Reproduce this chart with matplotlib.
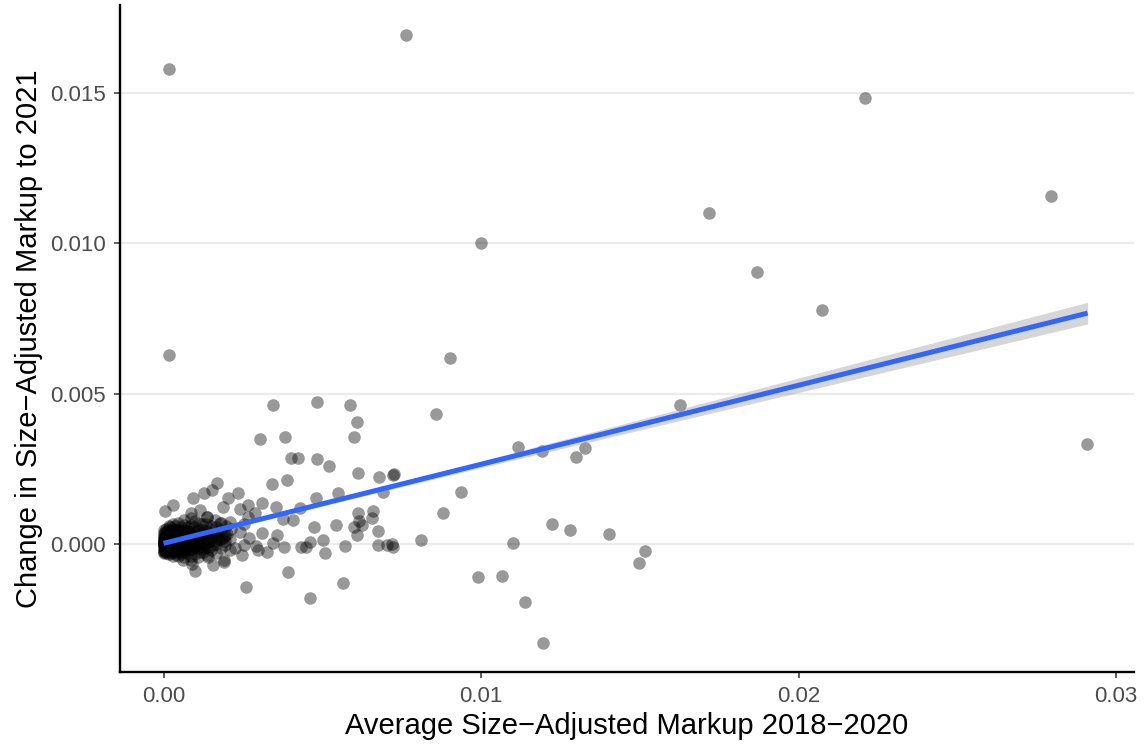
import numpy as np
import matplotlib
matplotlib.use("Agg")
import matplotlib.pyplot as plt

plt.rcParams["font.family"] = ["Liberation Sans", "DejaVu Sans"]

# values in units of 1e-4
# outliers and the spread-out points
outer_x = [1.6, 1.6, 76.4, 221.0, 279.6, 171.7, 100.0, 186.8, 207.5, 290.9,
           90.3, 162.6, 85.8, 93.7, 88.1, 111.6, 119.2, 129.9, 132.7, 122.3,
           128.0, 140.3, 110.1, 151.6, 149.7, 99.1, 106.6, 113.8, 119.5]
outer_y = [158.0, 62.9, 169.3, 148.4, 115.8, 110.1, 100.1, 90.5, 77.8, 33.3,
           61.9, 46.2, 43.2, 17.3, 10.3, 32.3, 30.9, 28.9, 31.9, 6.7,
           4.7, 3.3, 0.3, -2.3, -6.3, -11.0, -10.6, -19.3, -32.9]

# middle range points
mid_x = [34.6, 48.4, 58.8, 61.0, 60.1, 30.5, 38.4, 40.0, 42.5, 48.4,
         52.2, 61.3, 67.9, 72.3, 72.6, 69.2, 39.0, 34.3, 17.0, 55.0,
         48.1, 43.1, 35.5, 31.1, 61.3, 66.0, 65.7, 61.6, 60.1, 62.6,
         67.6, 61.0, 54.4, 47.5, 50.3, 57.2, 50.9, 46.2, 43.4, 45.0,
         67.6, 70.4, 72.0, 72.3, 81.1, 39.3, 26.1, 56.6, 46.2, 10.0,
         38.0, 37.7, 40.9, 35.8, 34.6, 32.7, 29.6, 31.1, 28.9, 26.7,
         23.3, 20.4, 18.6, 15.4, 12.6, 9.4, 3.1, 0.6, 25.2, 24.8,
         18.9, 19.0, 15.7, 6.0, 8.5, 17.9, 21.0, 24.0, 8.5, 11.6,
         13.8, 25.5, 27.0, 22.5, 19.5, 26.5, 29.0, 24.2, 14.0, 9.0]
mid_y = [46.2, 47.2, 46.2, 40.6, 35.6, 34.9, 35.6, 28.6, 28.6, 28.3,
         25.9, 23.6, 22.3, 23.0, 23.3, 17.3, 21.3, 20.0, 20.3, 17.0,
         15.3, 12.0, 12.3, 13.6, 10.3, 11.0, 8.6, 7.7, 5.7, 6.3,
         4.3, 3.0, 6.3, 5.7, 1.3, -0.7, -3.0, 0.7, -1.0, -1.0,
         -0.3, -0.3, 0.0, -1.0, 1.3, -9.3, -14.3, -13.0, -18.0, -9.0,
         -1.0, 8.3, 8.0, 3.0, 0.3, -2.7, -2.0, 3.7, 10.3, 13.0,
         17.0, 15.3, 12.3, 18.0, 17.0, 15.3, 13.0, 11.0, -0.3, -3.7,
         -6.0, -5.5, -7.0, -5.3, -5.3, 7.0, 7.3, 4.0, 10.3, 11.3,
         9.0, 6.5, 2.0, -1.5, 1.0, 8.8, -0.8, 11.5, -4.5, -6.8]

# dense cluster next to the origin
core_x = [0.1, 0.2, 0.1, 0.3, 0.2, 0.1, 0.2, 0.3, 0.1, 0.2, 0.0, 0.1,
          0.5, 0.4, 0.6, 0.5, 0.4, 0.6, 0.5, 0.4, 0.6, 0.5,
          1.0, 0.9, 1.1, 1.0, 0.8, 1.2, 1.0, 0.9, 1.1, 1.0,
          1.6, 1.5, 1.7, 1.6, 1.4, 1.8, 1.6, 1.5, 1.7, 1.6,
          2.3, 2.2, 2.4, 2.3, 2.1, 2.5, 2.3, 2.2, 2.4, 2.3,
          3.0, 2.9, 3.1, 3.0, 2.8, 3.2, 3.0, 2.9, 3.1,
          3.8, 3.7, 3.9, 3.8, 3.6, 4.0, 3.8, 3.7,
          4.6, 4.5, 4.7, 4.6, 4.4, 4.8, 4.6, 4.5,
          5.5, 5.4, 5.6, 5.5, 5.3, 5.7, 5.5,
          6.5, 6.4, 6.6, 6.5, 6.3, 6.7, 6.5, 6.4,
          7.5, 7.4, 7.6, 7.5, 7.3, 7.7,
          8.6, 8.5, 8.7, 8.6, 8.4, 8.8, 8.6,
          9.8, 9.7, 9.9, 9.8, 9.6, 10.0,
          11.0, 10.9, 11.1, 11.0, 10.8, 11.2,
          12.3, 12.2, 12.4, 12.3, 12.1,
          13.6, 13.5, 13.7, 13.6, 13.4, 13.8,
          15.0, 14.9, 15.1, 15.0,
          16.5, 16.4, 16.6, 16.5, 16.3,
          18.0, 17.9, 18.1, 18.0,
          19.5, 19.4, 19.6,
          21.0, 20.9, 21.1,
          0.2, 0.3, 0.1, 0.4, 0.2, 0.3, 0.5, 0.7, 0.8, 0.6,
          1.2, 1.3, 1.4, 1.9, 2.0, 2.6, 2.7, 3.3, 3.4, 3.5,
          4.1, 4.2, 4.3, 5.0, 5.1, 5.2, 5.9, 6.0, 6.1, 6.9,
          7.0, 7.1, 7.9, 8.0, 8.1, 9.0, 9.2, 10.3, 10.5, 11.6,
          12.0, 12.8, 13.1, 14.2, 14.5, 0.1, 0.2, 0.3, 0.9, 1.8,
          2.5, 3.2, 4.0, 4.9, 5.8, 6.8, 7.8, 8.9, 10.1, 11.4,
          0.4, 1.1, 2.1, 3.6, 5.3, 7.2, 9.4, 12.6, 15.5, 17.2]
core_y = [-2.0, -1.0, 0.0, 0.5, 1.0, 2.0, 3.0, -3.0, 1.5, 0.2, -0.5, 0.8,
          -2.5, -1.0, 0.0, 0.8, 1.8, 2.8, 4.0, -0.5, 1.2, -1.8,
          -3.0, -1.5, -0.3, 0.6, 1.5, 2.4, 3.5, 5.0, 0.1, -2.2,
          -3.5, -2.0, -0.8, 0.3, 1.2, 2.2, 3.3, 4.5, 6.0, -1.2,
          -3.0, -1.2, 0.0, 1.0, 2.0, 3.0, 4.2, 5.5, -2.0, 0.5,
          -4.0, -2.5, -1.0, 0.5, 1.6, 2.7, 3.8, 5.0, 6.5,
          -3.2, -1.5, 0.0, 1.3, 2.5, 3.6, 4.8, 6.0,
          -4.0, -2.0, -0.5, 1.0, 2.2, 3.4, 4.6, 7.0,
          -3.5, -1.8, 0.0, 1.5, 2.8, 4.0, 5.5,
          -4.5, -2.5, -0.5, 1.2, 3.0, 4.5, 6.3, 8.0,
          -3.0, -1.0, 0.8, 2.6, 4.2, 5.8,
          -4.0, -1.8, 0.3, 2.3, 4.0, 6.2, 8.5,
          -3.2, -0.8, 1.4, 3.5, 5.5, 7.5,
          -4.2, -1.5, 0.8, 3.0, 5.0, 7.0,
          -2.8, 0.0, 2.5, 4.8, 6.8,
          -3.8, -1.0, 1.8, 4.2, 6.5, 9.0,
          -2.0, 1.0, 3.5, 6.0,
          -3.0, 0.0, 2.8, 5.5, 8.0,
          -1.5, 1.5, 4.5, 7.0,
          -0.5, 3.0, 6.0,
          -2.0, 1.5, 5.0,
          0.3, -0.4, 1.2, -1.3, 2.4, -2.4, 0.4, -0.7, 1.0, 2.2,
          0.2, -1.0, 1.9, -0.3, 0.8, -0.9, 1.7, 0.2, -1.7, 2.0,
          -0.6, 0.9, 3.0, -1.2, 0.6, 2.3, -0.2, 1.8, 3.2, -1.5,
          0.4, 2.2, -0.8, 1.3, 3.1, -1.6, 0.9, -0.4, 2.0, -1.0,
          1.2, 0.0, 2.9, -1.5, 1.5, 3.8, -2.6, 4.5, -0.1, 0.1,
          3.6, -2.8, -2.4, 4.8, -2.6, 2.2, -2.0, 0.8, 0.2, -2.8,
          0.9, -0.9, -0.7, -0.6, 0.9, -0.2, 0.4, -1.2, -0.5, 1.8]

# more of the cluster (it is solid black in the picture)
core2_x = [0.3, 0.6, 0.9, 1.3, 1.7, 2.2, 2.8, 3.4, 4.0, 4.7,
           5.4, 6.2, 7.0, 7.8, 8.7, 9.6, 10.6, 11.7, 12.9, 14.1,
           15.3, 16.8, 18.4, 20.0, 0.2, 0.7, 1.2, 1.9, 2.7, 3.6,
           4.5, 5.6, 6.8, 8.1, 9.5, 11.0, 12.6, 14.4, 16.2, 19.0]
core2_y = [0.6, -0.2, 1.4, 0.1, -0.6, 1.1, 0.3, -0.4, 1.5, 0.5,
           -0.3, 1.7, 0.6, -0.2, 1.9, 0.8, 2.6, 1.2, 3.2, 0.7,
           2.4, 3.9, 2.0, 3.4, -1.1, 2.1, -1.6, 2.6, -2.2, 3.0,
           -1.4, 3.3, -1.7, 4.1, -1.1, 4.4, -0.6, 5.0, 1.0, 2.2]

# fitted line and its confidence band
fit_x = [0.0, 100.0, 200.0, 291.0]
fit_y = [0.2, 26.5, 52.8, 76.8]
band_lo = [-0.1, 25.4, 50.4, 73.2]
band_hi = [0.5, 27.6, 55.2, 80.4]

x_ticks = [0.00, 0.01, 0.02, 0.03]
x_tick_labels = ["0.00", "0.01", "0.02", "0.03"]
y_ticks = [0.000, 0.005, 0.010, 0.015]
y_tick_labels = ["0.000", "0.005", "0.010", "0.015"]

scale = 1e-4
xs = np.array(outer_x + mid_x + core_x + core2_x) * scale
ys = np.array(outer_y + mid_y + core_y + core2_y) * scale

fig = plt.figure(figsize=(11.46, 7.48), dpi=100)
ax = fig.add_axes([120 / 1146, 76 / 748, 1014 / 1146, 667 / 748])

# horizontal grid only
for yt in y_ticks:
    ax.axhline(yt, color="#EBEBEB", lw=1.6, zorder=0)

ax.scatter(xs, ys, s=82, color="black", alpha=0.4, linewidths=0, zorder=2)

fx = np.array(fit_x) * scale
ax.fill_between(fx, np.array(band_lo) * scale, np.array(band_hi) * scale,
                color="#999999", alpha=0.4, linewidth=0, zorder=3)
ax.plot(fx, np.array(fit_y) * scale, color="#3366FF", lw=3.6,
        solid_capstyle="butt", zorder=4)

ax.set_xlim(-0.00137, 0.03056)
ax.set_ylim(-0.00426, 0.01793)
ax.set_xticks(x_ticks)
ax.set_xticklabels(x_tick_labels)
ax.set_yticks(y_ticks)
ax.set_yticklabels(y_tick_labels)

for side in ["top", "right"]:
    ax.spines[side].set_visible(False)
for side in ["left", "bottom"]:
    ax.spines[side].set_linewidth(1.7)
    ax.spines[side].set_color("black")

ax.tick_params(axis="both", length=4, width=1.1, color="#333333",
               labelcolor="#4D4D4D", labelsize=16, pad=6)

ax.set_xlabel("Average Size\u2212Adjusted Markup 2018\u22122020", fontsize=21,
              labelpad=4)
ax.set_ylabel("Change in Size\u2212Adjusted Markup to 2021", fontsize=21,
              labelpad=5)

plt.savefig("out.png", dpi=100)
plt.close()
